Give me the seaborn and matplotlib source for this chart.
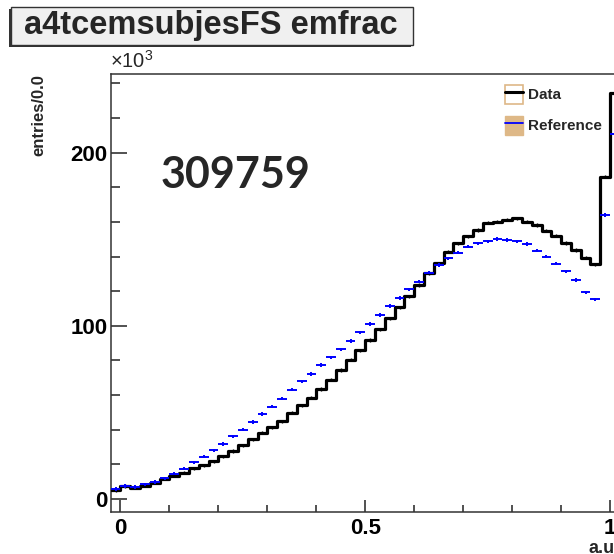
import numpy as np
import pandas as pd
import matplotlib
matplotlib.use("Agg")
import matplotlib.pyplot as plt
import seaborn as sns
from matplotlib.patches import Patch, Rectangle
from matplotlib.lines import Line2D
from matplotlib.legend_handler import HandlerTuple
from matplotlib.ticker import MultipleLocator, FixedLocator, FuncFormatter

# ----- histogram contents (entries, x10^3), bins of 0.02 starting at -0.02 -----
first_edge = -0.02
bin_width = 0.02

data_k = [5.0, 7.5, 6.5, 7.7, 9.4, 11.7, 13.5, 15.2, 17.7, 19.6,
          21.9, 24.8, 27.7, 31.0, 34.5, 38.3, 41.4, 45.0, 49.8, 54.1,
          58.5, 63.5, 68.9, 74.5, 80.4, 86.0, 91.8, 98.0, 104.3, 110.7,
          117.0, 123.6, 130.3, 136.1, 142.8, 147.6, 151.8, 155.3, 159.5, 160.1,
          161.3, 162.1, 160.1, 158.2, 155.0, 152.0, 147.8, 143.8, 139.2, 135.5,
          186.0, 234.6]

ref_k = [5.7, 7.6, 7.0, 8.5, 9.8, 11.9, 14.7, 17.6, 21.2, 24.5,
         28.1, 31.8, 36.2, 40.0, 44.5, 49.1, 53.3, 57.9, 63.1, 68.0,
         72.3, 77.4, 81.8, 86.4, 91.2, 96.2, 101.0, 106.2, 111.4, 116.0,
         121.0, 125.5, 130.7, 135.1, 139.0, 142.2, 145.7, 147.6, 148.8, 150.1,
         149.5, 148.8, 147.2, 143.4, 139.9, 135.9, 131.4, 126.4, 119.3, 115.3,
         164.0, 211.0]

run_number = "309759"
title = "a4tcemsubjesFS emfrac"
x_ticks = [0, 0.5, 1]
y_ticks = [0, 100, 200]

edges = [round(first_edge + bin_width * i, 4) for i in range(len(data_k) + 1)]
centers = [e + bin_width / 2 for e in edges[:-1]]
df = pd.DataFrame({"x": centers, "data": data_k, "ref": ref_k})

sns.set_style("white")
plt.rcParams["font.family"] = ["Liberation Sans", "DejaVu Sans"]
plt.rcParams["mathtext.fontset"] = "custom"
plt.rcParams["mathtext.rm"] = "Liberation Sans"

fig = plt.figure(figsize=(6.14, 5.54), dpi=100)
ax = fig.add_axes([0.1803, 0.0758, 0.8292, 0.7906])

# data: black step histogram
sns.histplot(data=df, x="x", weights="data", bins=edges, element="step",
             fill=False, color="black", linewidth=2.3, ax=ax, zorder=3)
ax.errorbar(df["x"], df["data"], yerr=0.9, fmt="none", ecolor="black",
            elinewidth=1.0, capsize=0, zorder=3)

# reference: blue horizontal bars with small error ticks
ax.errorbar(df["x"], df["ref"], xerr=bin_width / 2, yerr=1.0, fmt="none",
            ecolor="blue", elinewidth=1.4, capsize=0, zorder=4)

ax.set_xlim(-0.02, 1.02)
ax.set_ylim(-7.5, 245.4)

ax.xaxis.set_major_locator(FixedLocator(x_ticks))
ax.xaxis.set_minor_locator(MultipleLocator(0.1))
ax.yaxis.set_major_locator(FixedLocator(y_ticks))
ax.yaxis.set_minor_locator(MultipleLocator(20))
ax.xaxis.set_major_formatter(FuncFormatter(lambda v, p: "%g" % v))
ax.yaxis.set_major_formatter(FuncFormatter(lambda v, p: "%g" % v))

ax.tick_params(axis="both", which="both", direction="in", colors="#222222",
               labelcolor="black", width=1.1, left=True, bottom=True,
               top=False, right=False)
ax.tick_params(axis="y", which="major", length=11.5, pad=2.2, labelsize=16)
ax.tick_params(axis="y", which="minor", length=6.5)
ax.tick_params(axis="x", which="major", length=9, pad=4.3, labelsize=16)
ax.tick_params(axis="x", which="minor", length=5)
for lab in ax.get_xticklabels() + ax.get_yticklabels():
    lab.set_fontweight("bold")

for s in ax.spines.values():
    s.set_color("#333333")
    s.set_linewidth(1.1)

ax.set_xlabel("a.u.", loc="right", fontsize=13, fontweight="bold", labelpad=1)
ax.set_ylabel("entries/0.0", loc="top", fontsize=12, fontweight="bold")
ax.yaxis.set_label_coords(-0.127, 1.0)

ax.text(-0.002, 1.006, "\u00d710$^{3}$", transform=ax.transAxes, fontsize=14.5,
        ha="left", va="bottom")

# legend
h_data = (Patch(facecolor="white", edgecolor="#deb887", linewidth=1.2),
          Line2D([], [], color="black", linewidth=2.2))
h_ref = (Patch(facecolor="#deb887", edgecolor="#deb887"),
         Line2D([], [], color="blue", linewidth=1.3))
fig.legend([h_data, h_ref], ["Data", "Reference"],
           handler_map={tuple: HandlerTuple(ndivide=1, pad=0)},
           loc="upper left", bbox_to_anchor=(505 / 614, 1 - 85 / 554),
           frameon=False, borderpad=0, borderaxespad=0,
           handlelength=1.2, handleheight=1.5, handletextpad=0.3,
           labelspacing=0.8, prop={"weight": "bold", "size": 11})

# run number
fig.text(161 / 614, 1 - 188 / 554, run_number, fontfamily="Lato",
         fontweight="bold", fontsize=31, ha="left", va="baseline")

# ROOT style title box with shadow
x0, w = 11 / 614, 402 / 614
y0, h = 1 - 45 / 554, 38 / 554
fig.patches.append(Rectangle((x0 - 2 / 614, y0 - 2 / 554), w, h,
                             transform=fig.transFigure, facecolor="#333333",
                             edgecolor="none"))
fig.patches.append(Rectangle((x0, y0), w, h, transform=fig.transFigure,
                             facecolor="#f0f0f0", edgecolor="#333333",
                             linewidth=1.0))
fig.text(211 / 614, 1 - 34 / 554, title, fontsize=23.5, fontweight="bold",
         ha="center", va="baseline")

fig.savefig("out.png", dpi=100)
